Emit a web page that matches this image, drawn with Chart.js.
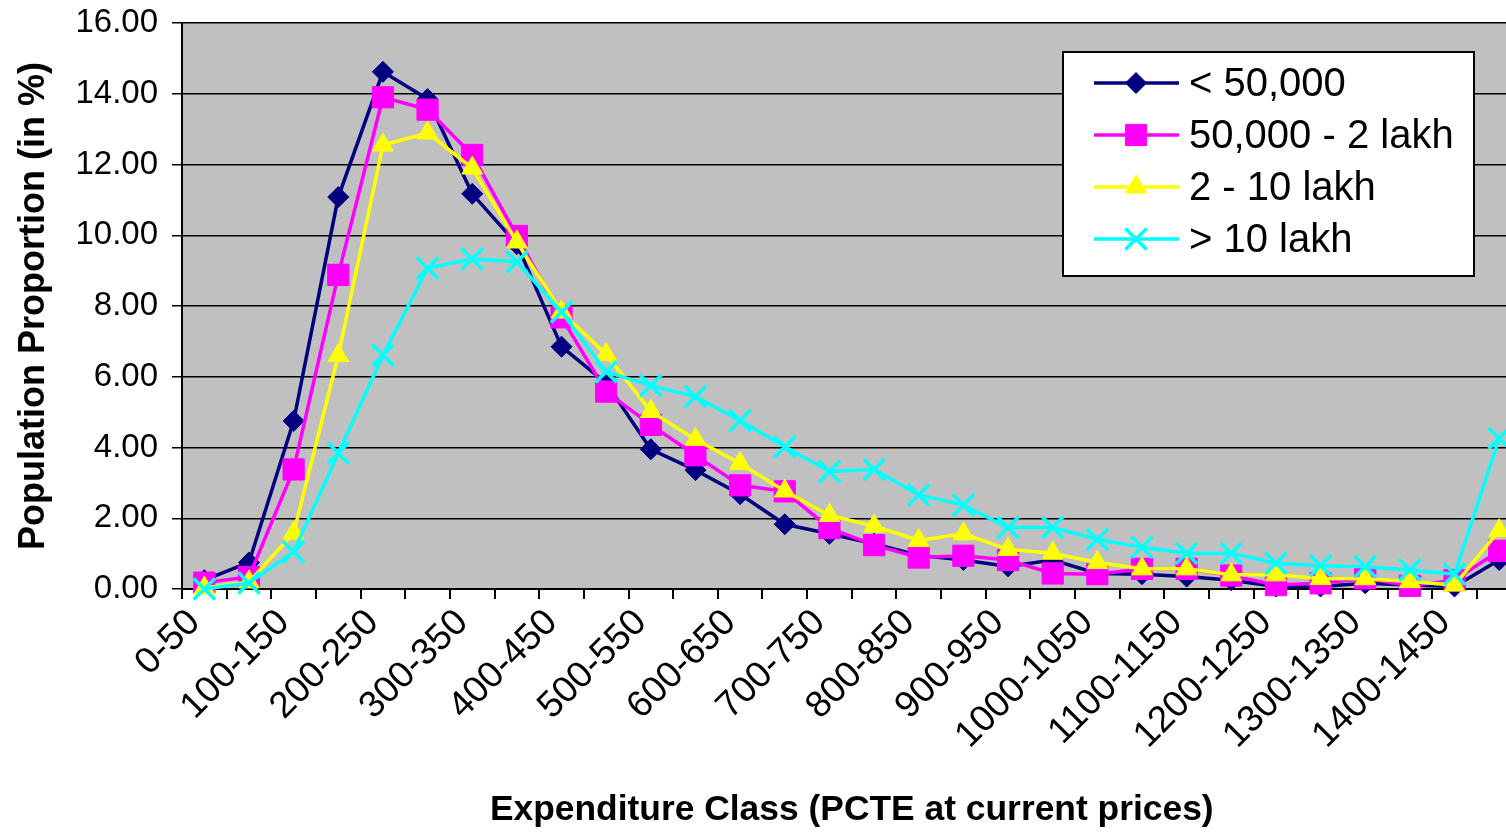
<!DOCTYPE html>
<html>
<head>
<meta charset="utf-8">
<script src="https://cdn.jsdelivr.net/npm/chart.js@4.4.0/dist/chart.umd.min.js"></script>
<style>
  html, body { margin: 0; padding: 0; background: #fff; overflow: hidden; }
  #wrap { width: 1540px; height: 833px; }
</style>
</head>
<body>
<div id="wrap"><canvas id="classes" width="1540" height="833"></canvas></div>
<script>
// expenditure classes (PCTE, Rs.)
const classes = ['0-50', '50-100', '100-150', '150-200', '200-250', '250-300', '300-350', '350-400',
    '400-450', '450-500', '500-550', '550-600', '600-650', '650-700', '700-750', '750-800',
    '800-850', '850-900', '900-950', '950-1000', '1000-1050', '1050-1100', '1100-1150', '1150-1200',
    '1200-1250', '1250-1300', '1300-1350', '1350-1400', '1400-1450', '1450 & above']

// population proportion (in %) by income group
const below_50k = [0.25, 0.75, 4.75, 11.08, 14.62, 13.85, 11.17, 9.75, 6.85, 5.82, 3.95, 3.36, 2.68, 1.83, 1.56, 1.28,
    0.95, 0.82, 0.64, 0.82, 0.44, 0.42, 0.35, 0.25, 0.07, 0.07, 0.16, 0.11, 0.07, 0.82]
const from_50k_2l = [0.18, 0.34, 3.38, 8.88, 13.9, 13.55, 12.27, 9.98, 7.68, 5.58, 4.64, 3.78, 2.93, 2.76, 1.72, 1.24,
    0.89, 0.94, 0.82, 0.44, 0.42, 0.57, 0.57, 0.38, 0.11, 0.16, 0.30, 0.09, 0.25, 1.08]
const from_2l_10l = [0.03, 0.2, 1.58, 6.6, 12.55, 12.89, 11.9, 9.81, 7.83, 6.63, 5.02, 4.23, 3.55, 2.77, 2.08, 1.78,
    1.37, 1.56, 1.12, 1.01, 0.75, 0.57, 0.57, 0.40, 0.40, 0.30, 0.29, 0.21, 0.11, 1.65]
const above_10l = [0.0, 0.17, 1.05, 3.84, 6.61, 9.07, 9.33, 9.25, 7.83, 6.14, 5.75, 5.44, 4.76, 4.02, 3.32, 3.38,
    2.66, 2.37, 1.74, 1.74, 1.40, 1.18, 1.01, 1.01, 0.73, 0.66, 0.63, 0.54, 0.42, 4.26]

const y_ticks = [0, 2, 4, 6, 8, 10, 12, 14, 16]

Chart.defaults.font.family = "'Liberation Sans', Arial, sans-serif"
Chart.defaults.color = '#000'

function serie(label, data, color, style, radius, order) {
    return {
        label: label,
        data: data,
        borderColor: color,
        backgroundColor: color,
        borderWidth: 3.5,
        pointStyle: style,
        pointRadius: radius,
        pointHoverRadius: radius,
        pointBackgroundColor: color,
        pointBorderColor: color,
        pointBorderWidth: style === 'crossRot' ? 3.5 : 1,
        tension: 0,
        clip: false,
        order: order
    }
}

// grey plot area like the excel original
const plot_bg = {
    id: 'plot_bg',
    beforeDraw(chart) {
        const a = chart.chartArea
        const ctx = chart.ctx
        ctx.save()
        ctx.fillStyle = '#c0c0c0'
        ctx.fillRect(a.left, a.top, a.right - a.left, a.bottom - a.top)
        ctx.restore()
    }
}

// boxed legend inside the plot, top right
const box_legend = {
    id: 'box_legend',
    afterDraw(chart) {
        const ctx = chart.ctx
        ctx.save()
        ctx.fillStyle = '#fff'
        ctx.fillRect(1063, 52, 411, 224)
        ctx.lineWidth = 2
        ctx.strokeStyle = '#000'
        ctx.strokeRect(1063, 52, 411, 224)
        chart.data.datasets.forEach((ds, i) => {
            const y = 83 + i * 52
            ctx.strokeStyle = ds.borderColor
            ctx.lineWidth = 3.5
            ctx.beginPath()
            ctx.moveTo(1094, y)
            ctx.lineTo(1179, y)
            ctx.stroke()
            ctx.fillStyle = ds.pointBackgroundColor
            ctx.lineWidth = ds.pointBorderWidth
            Chart.helpers.drawPoint(ctx, {
                pointStyle: ds.pointStyle, radius: ds.pointRadius, rotation: 0, borderWidth: ds.pointBorderWidth
            }, 1136, y)
            ctx.fillStyle = '#000'
            ctx.font = "40px 'Liberation Sans', Arial, sans-serif"
            ctx.textAlign = 'left'
            ctx.textBaseline = 'middle'
            ctx.fillText(ds.label, 1189, y + 2)
        })
        ctx.restore()
    }
}

const ctx = document.getElementById('classes').getContext('2d')
const myChart = new Chart(ctx, {
    type: 'line',
    data: {
        labels: classes,
        datasets: [
            serie('< 50,000', below_50k, '#000080', 'rectRot', 10.5, 4),
            serie('50,000 - 2 lakh', from_50k_2l, '#ff00ff', 'rect', 15, 3),
            serie('2 - 10 lakh', from_2l_10l, '#ffff00', 'triangle', 12, 2),
            serie('> 10 lakh', above_10l, '#00ffff', 'crossRot', 15, 1)
        ]
    },
    options: {
        responsive: false,
        animation: false,
        layout: { padding: { left: 0, right: 17, top: 23, bottom: 0 } },
        plugins: { legend: { display: false }, tooltip: { enabled: false } },
        scales: {
            x: {
                offset: true,
                grid: { offset: true, drawOnChartArea: false, color: '#000', lineWidth: 2, tickLength: 10 },
                border: { color: '#000', width: 2 },
                ticks: {
                    autoSkip: false, minRotation: 45, maxRotation: 45, padding: 2, labelOffset: -10,
                    font: { size: 37 },
                    callback: function (v, i) { return i % 2 === 0 ? this.getLabelForValue(v) : '' }
                },
                title: {
                    display: true, text: 'Expenditure Class (PCTE at current prices)',
                    font: { size: 35.4, weight: 'bold' }, padding: { top: 0, bottom: 2 }
                },
                afterFit: s => { s.height = 244 }
            },
            y: {
                min: 0,
                max: 16,
                afterBuildTicks: s => { s.ticks = y_ticks.map(v => ({ value: v })) },
                grid: { color: '#000', lineWidth: 1.5, tickLength: 10 },
                border: { color: '#000', width: 2 },
                ticks: { font: { size: 33 }, padding: 14, callback: v => v.toFixed(2) },
                title: {
                    display: true, text: 'Population Proportion (in %)',
                    font: { size: 36, weight: 'bold' }, padding: { top: 12, bottom: 0 }
                },
                afterFit: s => { s.width = 182; s.paddingTop = 0 }
            }
        }
    },
    plugins: [plot_bg, box_legend]
})
</script>
</body>
</html>
